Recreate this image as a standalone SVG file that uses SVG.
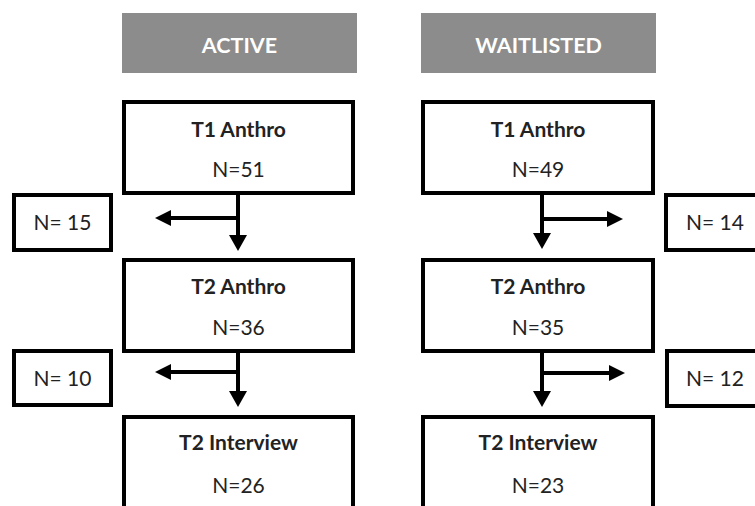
<svg xmlns="http://www.w3.org/2000/svg" width="755" height="506" viewBox="0 0 755 506">
<style>
.hdr{fill:#8c8c8c}
.hdrt{font-family:Lato,"Liberation Sans",sans-serif;font-weight:bold;font-size:21.5px;fill:#fff;text-anchor:middle}
.box{fill:#fff;stroke:#000;stroke-width:4}
.t{font-family:Lato,"Liberation Sans",sans-serif;font-size:21px;fill:#222;text-anchor:middle}
.b{font-weight:bold}
.ln{stroke:#000;stroke-width:4;fill:none}
.ah{fill:#000}
</style>
<rect width="755" height="506" fill="#fff"/>
<g id="hdr-active"><rect class="hdr" x="122" y="13" width="235" height="60"/><text class="hdrt" x="239.5" y="53">ACTIVE</text></g>
<g id="hdr-wait"><rect class="hdr" x="421" y="13" width="235" height="60"/><text class="hdrt" x="538.5" y="53">WAITLISTED</text></g>
<g id="a-t1"><rect class="box" x="124" y="102" width="229" height="91"/><text class="t b" x="238.5" y="137">T1 Anthro</text><text class="t" x="238.5" y="177">N=51</text></g>
<g id="a-t2"><rect class="box" x="124" y="260" width="229" height="91"/><text class="t b" x="238.5" y="294">T2 Anthro</text><text class="t" x="238.5" y="335">N=36</text></g>
<g id="a-t3"><rect class="box" x="124" y="417" width="229" height="100"/><text class="t b" x="238.5" y="450">T2 Interview</text><text class="t" x="238.5" y="493">N=26</text></g>
<g id="a-d1"><rect class="box" x="14" y="195" width="97" height="55"/><text class="t" x="62.5" y="230">N= 15</text></g>
<g id="a-d2"><rect class="box" x="14" y="351" width="97" height="54"/><text class="t" x="62.5" y="386">N= 10</text></g>
<g id="w-t1"><rect class="box" x="423" y="102" width="230" height="91"/><text class="t b" x="538" y="137">T1 Anthro</text><text class="t" x="538" y="177">N=49</text></g>
<g id="w-t2"><rect class="box" x="423" y="260" width="230" height="91"/><text class="t b" x="538" y="294">T2 Anthro</text><text class="t" x="538" y="335">N=35</text></g>
<g id="w-t3"><rect class="box" x="423" y="417" width="230" height="100"/><text class="t b" x="538" y="450">T2 Interview</text><text class="t" x="538" y="493">N=23</text></g>
<g id="w-d1"><rect class="box" x="666" y="195" width="97" height="55"/><text class="t" x="715" y="230">N= 14</text></g>
<g id="w-d2"><rect class="box" x="667" y="351" width="97" height="55"/><text class="t" x="715" y="386">N= 12</text></g>
<g id="connectors">
<path class="ln" d="M238 195V236M238 218H170"/>
<polygon class="ah" points="229,235 247,235 238,251"/>
<polygon class="ah" points="171,210 171,226 155,218"/>
<path class="ln" d="M238 353V392M238 372H170"/>
<polygon class="ah" points="229,391 247,391 238,407"/>
<polygon class="ah" points="171,364 171,380 155,372"/>
<path class="ln" d="M542 195V234M542 219H608"/>
<polygon class="ah" points="533,233 551,233 542,249"/>
<polygon class="ah" points="607,211 607,227 623,219"/>
<path class="ln" d="M542 353V392M542 373H610"/>
<polygon class="ah" points="533,391 551,391 542,407"/>
<polygon class="ah" points="609,365 609,381 625,373"/>
</g>
</svg>
